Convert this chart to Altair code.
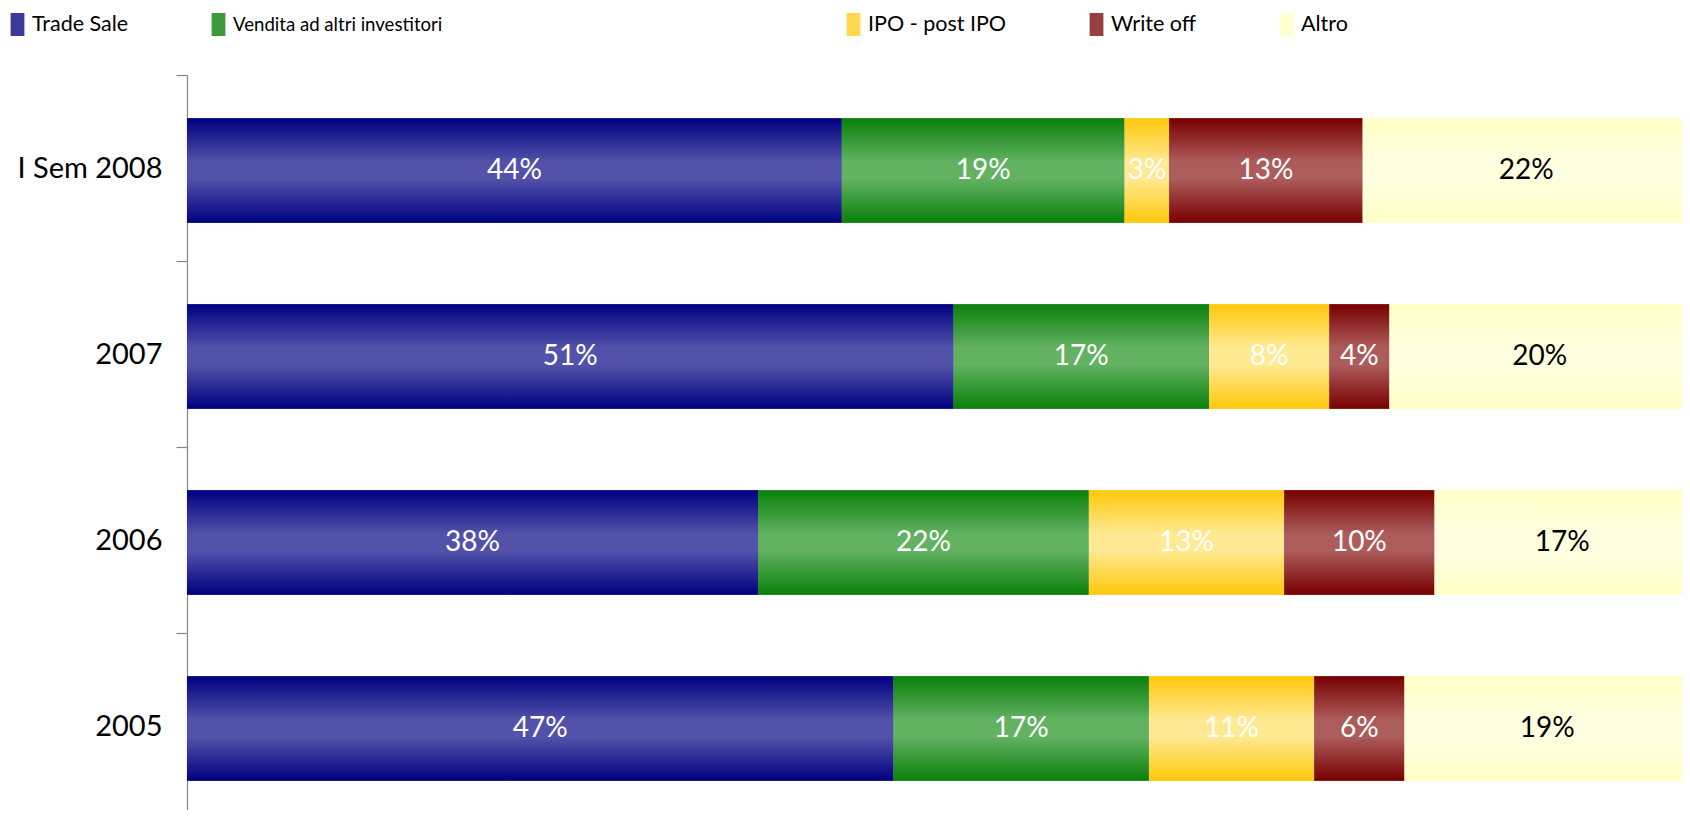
import altair as alt
import pandas as pd

years = ["I Sem 2008", "2007", "2006", "2005"]
categories = ["Trade Sale", "Vendita ad altri investitori", "IPO - post IPO", "Write off", "Altro"]
trade_sale = [44, 51, 38, 47]
vendita = [19, 17, 22, 17]
ipo = [3, 8, 13, 11]
write_off = [13, 4, 10, 6]
altro = [22, 20, 17, 19]
series = [trade_sale, vendita, ipo, write_off, altro]

edge_colors = ["#000080", "#0A7F0A", "#FFC80A", "#780000", "#FFFFC6"]
mid_colors = ["#5252AA", "#62B262", "#FFE992", "#AD5C5C", "#FFFFE0"]
legend_colors = ["#3A3A98", "#3C9A3C", "#FFD850", "#964040", "#FFFFD0"]

rows = []
for ci, (cat, vals) in enumerate(zip(categories, series)):
    for yr, v in zip(years, vals):
        rows.append({"year": yr, "category": cat, "order": ci, "value": v})
df = pd.DataFrame(rows)


def grad(edge, mid):
    return alt.Gradient(
        gradient="linear", x1=0, x2=0, y1=0, y2=1,
        stops=[
            alt.GradientStop(offset=0, color=edge),
            alt.GradientStop(offset=0.42, color=mid),
            alt.GradientStop(offset=0.58, color=mid),
            alt.GradientStop(offset=1, color=edge),
        ],
    )


base = alt.Chart(df).transform_stack(
    stack="value", as_=["start", "end"], groupby=["year"],
    sort=[alt.SortField("order", "ascending")], offset="normalize",
).transform_calculate(
    mid="(datum.start + datum.end) / 2",
    label="datum.value + '%'",
)

y_enc = alt.Y(
    "year:N", sort=years, title=None,
    scale=alt.Scale(paddingInner=0, paddingOuter=0),
    axis=alt.Axis(
        title=None, tickBand="extent", tickSize=11, tickColor="#868686",
        domainColor="#868686", tickWidth=1.2, domainWidth=1.2,
        labelFont="Lato", labelFontSize=29, labelColor="black",
        labelPadding=14, grid=False, labelBaseline="middle",
    ),
)
x_enc = alt.X("start:Q", scale=alt.Scale(domain=[0, 1]), axis=None)
bar_h = {"band": 0.562}

pad = "\u2003" * 23 + "\u200b"
legend_layer = base.mark_bar(height=bar_h, yOffset=2.5).encode(
    x=x_enc, x2="end:Q", y=y_enc,
    color=alt.Color(
        "category:N", sort=categories,
        scale=alt.Scale(domain=categories, range=legend_colors),
        legend=alt.Legend(
            title=None, orient="none", legendX=-181, legendY=-62,
            direction="horizontal",
            symbolType="M-0.6,-1H0.6V1H-0.6Z", symbolSize=529,
            symbolStrokeWidth=0, symbolOpacity=1,
            labelFont="Lato",
            labelFontSize={"expr": "datum.label == 'Vendita ad altri investitori' ? 18.6 : 21.5"},
            labelColor="black", labelOffset=3, columnPadding=78,
            padding=0, labelLimit=2000,
            labelExpr="datum.label == 'Vendita ad altri investitori' ? datum.label + '" + pad + "' : datum.label",
        ),
    ),
)

grad_layers = [
    base.transform_filter(alt.datum.category == cat)
    .mark_bar(color=grad(e, m), height=bar_h, yOffset=2.5)
    .encode(x=x_enc, x2="end:Q", y=y_enc)
    for cat, e, m in zip(categories, edge_colors, mid_colors)
]

text = base.mark_text(font="Lato", fontSize=28, baseline="middle", align="center", yOffset=2.5).encode(
    x=alt.X("mid:Q", scale=alt.Scale(domain=[0, 1]), axis=None),
    y=y_enc,
    text="label:N",
    color=alt.condition(alt.datum.category == "Altro", alt.value("black"), alt.value("white")),
)

chart = alt.layer(legend_layer, *grad_layers, text).properties(
    width=1503, height=744,
    autosize=alt.AutoSizeParams(type="none"),
    padding={"left": 179, "top": 67, "right": -8, "bottom": -9},
).configure_view(stroke=None)

chart.save("out.html", embed_options={"renderer": "svg", "actions": False})
